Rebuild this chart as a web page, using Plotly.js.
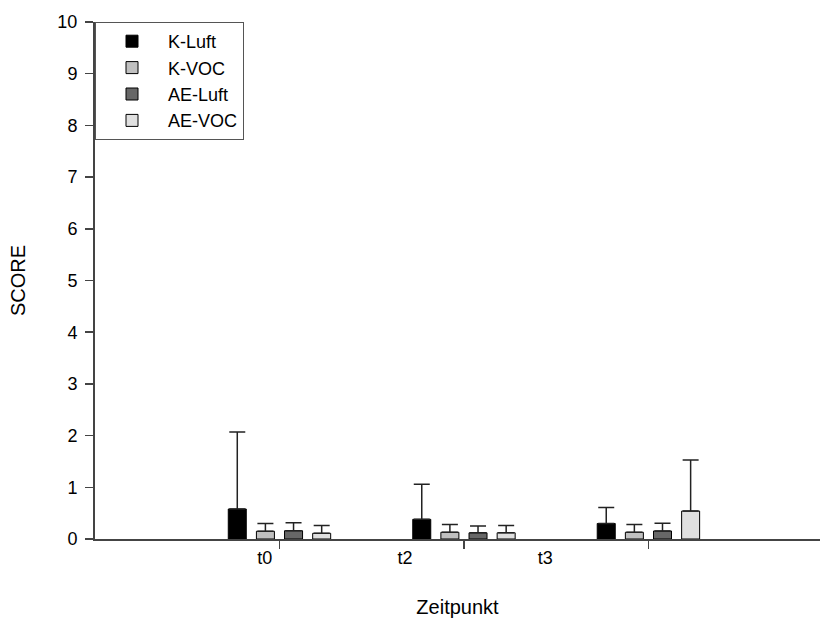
<!DOCTYPE html>
<html><head><meta charset="utf-8">
<script src="https://cdn.plot.ly/plotly-3.0.1.min.js"></script>
<style>body{margin:0;padding:0;background:#fff}#chart{width:821px;height:626px}</style>
</head><body><div id="chart"></div>
<script>
const groupPos = [0, 1, 2];
const tickLabels = ['t0', 't2', 't3'];
const labelPos = [-0.08, 0.68, 1.44];
const series = ['K-Luft', 'K-VOC', 'AE-Luft', 'AE-VOC'];
const colors = ['#000000', '#c0c0c0', '#676767', '#e0e0e0'];
const kLuft = [0.58, 0.38, 0.30];
const kLuftErr = [1.49, 0.68, 0.31];
const kVoc = [0.15, 0.13, 0.13];
const kVocErr = [0.15, 0.15, 0.15];
const aeLuft = [0.16, 0.12, 0.155];
const aeLuftErr = [0.155, 0.13, 0.15];
const aeVoc = [0.11, 0.12, 0.54];
const aeVocErr = [0.15, 0.14, 0.99];

const vals = [kLuft, kVoc, aeLuft, aeVoc];
const errs = [kLuftErr, kVocErr, aeLuftErr, aeVocErr];
const traces = series.map((name, i) => ({
  type: 'bar', name: name, x: groupPos, y: vals[i], legendgroup: 'g' + i,
  marker: {color: colors[i], line: {color: '#000', width: 1}},
  error_y: {type: 'data', symmetric: false, array: errs[i], arrayminus: errs[i].map(() => 0),
            color: '#222', thickness: 1.5, width: 8},
  hoverinfo: 'skip'
}));
traces.push({type: 'scatter', x: labelPos, y: [0,0,0], xaxis: 'x2', mode: 'markers',
  marker: {opacity: 0}, showlegend: false, hoverinfo: 'skip'});

const layout = {
  width: 821, height: 626,
  margin: {l: 95, r: 1, t: 22, b: 87},
  paper_bgcolor: '#fff', plot_bgcolor: '#fff',
  font: {family: 'Arial, Liberation Sans, sans-serif', size: 18, color: '#000'},
  barmode: 'group', bargap: 0.39, bargroupgap: 0.36,
  showlegend: true,
  legend: {x: 0, y: 1, xanchor: 'left', yanchor: 'top', bordercolor: '#555', borderwidth: 1,
           bgcolor: '#fff', font: {size: 18}, tracegroupgap: 0, itemwidth: 62},
  xaxis: {range: [-1.0, 2.93], tickvals: groupPos, ticktext: ['', '', ''], ticks: 'outside',
          ticklen: 8, tickcolor: '#444', tickwidth: 1.5, showgrid: false, zeroline: false,
          showline: true, linecolor: '#444', linewidth: 2, fixedrange: true,
          title: {text: 'Zeitpunkt', font: {size: 20}, standoff: 48}},
  xaxis2: {overlaying: 'x', range: [-1.0, 2.93], tickvals: labelPos, ticktext: tickLabels,
           ticks: '', showgrid: false, zeroline: false, showline: false, side: 'bottom',
           anchor: 'y', ticklabelstandoff: 6, tickfont: {size: 18}},
  yaxis: {range: [0, 10], tickvals: [0,1,2,3,4,5,6,7,8,9,10], ticks: 'outside', ticklen: 8,
          tickcolor: '#444', tickwidth: 1.5, showgrid: false, zeroline: false, showline: true,
          linecolor: '#444', linewidth: 2, tickfont: {size: 18}, ticklabelstandoff: 4,
          title: {text: 'SCORE', font: {size: 20}, standoff: 26}}
};
Plotly.newPlot('chart', traces, layout, {staticPlot: true});
</script></body></html>
